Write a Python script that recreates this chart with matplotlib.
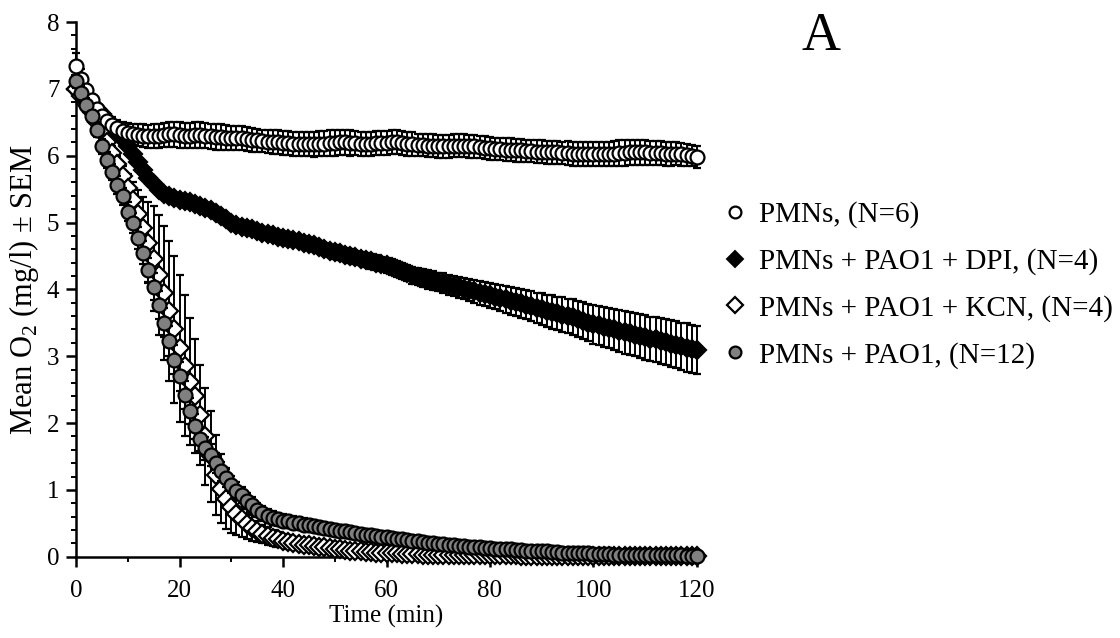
import matplotlib
matplotlib.use("Agg")
import matplotlib.pyplot as plt
from matplotlib.lines import Line2D
from matplotlib.ticker import MultipleLocator

plt.rcParams['font.family'] = ['Liberation Serif', 'DejaVu Serif']
plt.rcParams['mathtext.fontset'] = 'custom'
plt.rcParams['mathtext.rm'] = 'Liberation Serif'

# time in minutes, one reading per minute
time_min = list(range(0, 121))

# PMNs, (N=6)
pmn_mean = [7.34, 7.15, 6.98, 6.83, 6.70, 6.60, 6.52, 6.46, 6.41, 6.37, 6.34,
            6.32, 6.31, 6.30, 6.29, 6.29, 6.30, 6.31, 6.32, 6.32, 6.31,
            6.30, 6.30, 6.31, 6.31, 6.30, 6.29, 6.28, 6.28, 6.27, 6.27,
            6.26, 6.26, 6.25, 6.24, 6.23, 6.22, 6.21, 6.20, 6.20, 6.19,
            6.19, 6.18, 6.18, 6.17, 6.17, 6.17, 6.18, 6.18, 6.19, 6.19,
            6.20, 6.20, 6.19, 6.19, 6.18, 6.18, 6.18, 6.19, 6.19, 6.19,
            6.20, 6.20, 6.19, 6.18, 6.17, 6.16, 6.16, 6.15, 6.15, 6.14,
            6.14, 6.14, 6.15, 6.15, 6.15, 6.14, 6.14, 6.13, 6.12, 6.11,
            6.10, 6.10, 6.09, 6.09, 6.08, 6.08, 6.07, 6.07, 6.06, 6.06,
            6.05, 6.05, 6.05, 6.04, 6.04, 6.03, 6.03, 6.03, 6.02, 6.02,
            6.02, 6.02, 6.03, 6.03, 6.04, 6.04, 6.05, 6.05, 6.05, 6.05,
            6.04, 6.04, 6.04, 6.03, 6.03, 6.03, 6.02, 6.01, 6.00, 5.98]
pmn_sem = [0.20, 0.14, 0.10, 0.09, 0.09, 0.10, 0.11, 0.12, 0.13, 0.14, 0.15,
           0.16, 0.16, 0.17, 0.17, 0.18, 0.18, 0.18, 0.19, 0.19, 0.19,
           0.19, 0.19, 0.19, 0.19, 0.19, 0.19, 0.19, 0.19, 0.19, 0.18,
           0.18, 0.18, 0.18, 0.18, 0.17, 0.17, 0.17, 0.18, 0.18, 0.18,
           0.18, 0.18, 0.18, 0.18, 0.18, 0.19, 0.19, 0.19, 0.19, 0.19,
           0.19, 0.19, 0.19, 0.18, 0.18, 0.18, 0.18, 0.18, 0.18, 0.18,
           0.18, 0.18, 0.18, 0.18, 0.18, 0.17, 0.17, 0.17, 0.17, 0.17,
           0.17, 0.17, 0.17, 0.17, 0.17, 0.17, 0.17, 0.17, 0.17, 0.17,
           0.17, 0.17, 0.17, 0.17, 0.17, 0.17, 0.17, 0.17, 0.17, 0.17,
           0.17, 0.17, 0.17, 0.17, 0.18, 0.18, 0.18, 0.18, 0.18, 0.18,
           0.18, 0.18, 0.18, 0.19, 0.19, 0.19, 0.19, 0.19, 0.19, 0.19,
           0.18, 0.18, 0.18, 0.18, 0.18, 0.17, 0.17, 0.17, 0.16, 0.16]

# PMNs + PAO1 + DPI, (N=4)
dpi_mean = [7.00, 6.93, 6.86, 6.78, 6.70, 6.62, 6.54, 6.45, 6.35, 6.25, 6.14,
            6.03, 5.91, 5.79, 5.67, 5.57, 5.49, 5.43, 5.39, 5.36, 5.34,
            5.32, 5.30, 5.28, 5.25, 5.22, 5.19, 5.15, 5.10, 5.05, 5.00,
            4.97, 4.94, 4.92, 4.90, 4.88, 4.85, 4.83, 4.81, 4.79, 4.77,
            4.76, 4.74, 4.72, 4.70, 4.68, 4.66, 4.64, 4.61, 4.58, 4.56,
            4.54, 4.52, 4.50, 4.48, 4.46, 4.44, 4.42, 4.40, 4.38, 4.36,
            4.33, 4.30, 4.27, 4.24, 4.21, 4.19, 4.17, 4.15, 4.13, 4.11,
            4.09, 4.07, 4.05, 4.03, 4.01, 3.99, 3.97, 3.95, 3.93, 3.91,
            3.89, 3.87, 3.85, 3.83, 3.81, 3.79, 3.77, 3.75, 3.72, 3.70,
            3.68, 3.66, 3.64, 3.62, 3.60, 3.58, 3.56, 3.53, 3.50, 3.48,
            3.46, 3.44, 3.42, 3.40, 3.38, 3.36, 3.34, 3.32, 3.30, 3.28,
            3.26, 3.25, 3.23, 3.21, 3.19, 3.17, 3.15, 3.13, 3.11, 3.09]
dpi_sem = [0.06, 0.05, 0.05, 0.05, 0.05, 0.05, 0.05, 0.05, 0.05, 0.05, 0.05,
           0.05, 0.05, 0.05, 0.06, 0.06, 0.06, 0.06, 0.06, 0.06, 0.06,
           0.06, 0.06, 0.06, 0.06, 0.06, 0.06, 0.07, 0.07, 0.07, 0.07,
           0.07, 0.07, 0.07, 0.07, 0.08, 0.08, 0.08, 0.08, 0.08, 0.08,
           0.08, 0.08, 0.08, 0.09, 0.09, 0.09, 0.09, 0.09, 0.09, 0.10,
           0.10, 0.10, 0.10, 0.10, 0.10, 0.11, 0.11, 0.11, 0.11, 0.11,
           0.12, 0.12, 0.12, 0.12, 0.13, 0.13, 0.13, 0.14, 0.14, 0.14,
           0.15, 0.15, 0.15, 0.16, 0.16, 0.17, 0.17, 0.18, 0.18, 0.19,
           0.19, 0.20, 0.20, 0.21, 0.21, 0.22, 0.22, 0.23, 0.23, 0.24,
           0.24, 0.25, 0.25, 0.26, 0.26, 0.27, 0.27, 0.28, 0.28, 0.29,
           0.29, 0.30, 0.30, 0.31, 0.31, 0.32, 0.32, 0.32, 0.33, 0.33,
           0.33, 0.34, 0.34, 0.34, 0.35, 0.35, 0.35, 0.36, 0.36, 0.36]

# PMNs + PAO1 + KCN, (N=4)
kcn_mean = [7.00, 6.90, 6.78, 6.65, 6.51, 6.36, 6.20, 6.04, 5.87, 5.70, 5.52,
            5.33, 5.13, 4.92, 4.70, 4.46, 4.21, 3.95, 3.68, 3.40, 3.12,
            2.86, 2.62, 2.40, 2.12, 1.80, 1.50, 1.22, 1.02, 0.86, 0.74,
            0.64, 0.56, 0.49, 0.43, 0.38, 0.34, 0.31, 0.28, 0.26, 0.24,
            0.22, 0.21, 0.19, 0.18, 0.17, 0.16, 0.15, 0.14, 0.13, 0.12,
            0.11, 0.10, 0.09, 0.08, 0.08, 0.07, 0.07, 0.06, 0.06, 0.05,
            0.05, 0.05, 0.04, 0.04, 0.04, 0.04, 0.03, 0.03, 0.03, 0.03,
            0.03, 0.03, 0.02, 0.02, 0.02, 0.02, 0.02, 0.02, 0.02, 0.02,
            0.02, 0.02, 0.02, 0.02, 0.02, 0.01, 0.01, 0.01, 0.01, 0.01,
            0.01, 0.01, 0.01, 0.01, 0.01, 0.01, 0.01, 0.01, 0.01, 0.01,
            0.01, 0.01, 0.01, 0.01, 0.01, 0.01, 0.01, 0.01, 0.01, 0.01,
            0.01, 0.01, 0.01, 0.01, 0.01, 0.01, 0.01, 0.01, 0.01, 0.01]
kcn_sem = [0.08, 0.07, 0.07, 0.07, 0.08, 0.08, 0.09, 0.10, 0.12, 0.15, 0.20,
           0.27, 0.36, 0.46, 0.60, 0.78, 0.90, 1.00, 1.05, 1.10, 1.10,
           1.05, 0.95, 0.85, 0.75, 0.72, 0.68, 0.60, 0.52, 0.45, 0.38,
           0.32, 0.27, 0.22, 0.19, 0.16, 0.14, 0.13, 0.12, 0.11, 0.10,
           0.10, 0.09, 0.09, 0.08, 0.08, 0.07, 0.07, 0.07, 0.06, 0.06,
           0.06, 0.05, 0.05, 0.05, 0.05, 0.04, 0.04, 0.04, 0.04, 0.04,
           0.03, 0.03, 0.03, 0.03, 0.03, 0.03, 0.03, 0.03, 0.03, 0.03,
           0.02, 0.02, 0.02, 0.02, 0.02, 0.02, 0.02, 0.02, 0.02, 0.02,
           0.02, 0.02, 0.02, 0.02, 0.02, 0.01, 0.01, 0.01, 0.01, 0.01,
           0.01, 0.01, 0.01, 0.01, 0.01, 0.01, 0.01, 0.01, 0.01, 0.01,
           0.01, 0.01, 0.01, 0.01, 0.01, 0.01, 0.01, 0.01, 0.01, 0.01,
           0.01, 0.01, 0.01, 0.01, 0.01, 0.01, 0.01, 0.01, 0.01, 0.01]

# PMNs + PAO1, (N=12)
pao_mean = [7.11, 6.94, 6.76, 6.59, 6.39, 6.14, 5.94, 5.76, 5.56, 5.39, 5.16,
            4.99, 4.77, 4.55, 4.29, 4.04, 3.77, 3.50, 3.23, 2.95, 2.70,
            2.42, 2.18, 1.95, 1.76, 1.62, 1.52, 1.40, 1.28, 1.18, 1.08,
            0.99, 0.92, 0.84, 0.77, 0.70, 0.65, 0.61, 0.58, 0.56, 0.54,
            0.53, 0.51, 0.50, 0.48, 0.47, 0.46, 0.44, 0.43, 0.42, 0.40,
            0.39, 0.38, 0.37, 0.35, 0.34, 0.33, 0.32, 0.31, 0.30, 0.29,
            0.28, 0.27, 0.26, 0.25, 0.24, 0.23, 0.22, 0.21, 0.20, 0.19,
            0.19, 0.18, 0.17, 0.16, 0.16, 0.15, 0.14, 0.14, 0.13, 0.13,
            0.12, 0.12, 0.11, 0.11, 0.10, 0.10, 0.09, 0.09, 0.08, 0.08,
            0.08, 0.07, 0.07, 0.06, 0.06, 0.06, 0.05, 0.05, 0.05, 0.04,
            0.04, 0.04, 0.04, 0.03, 0.03, 0.03, 0.03, 0.03, 0.03, 0.02,
            0.02, 0.02, 0.02, 0.02, 0.02, 0.02, 0.02, 0.01, 0.01, 0.01]
pao_sem = [0.10, 0.10, 0.10, 0.10, 0.11, 0.11, 0.12, 0.12, 0.13, 0.13, 0.14,
           0.15, 0.16, 0.17, 0.18, 0.20, 0.21, 0.22, 0.22, 0.22, 0.22,
           0.21, 0.20, 0.19, 0.18, 0.17, 0.16, 0.15, 0.14, 0.14, 0.13,
           0.13, 0.12, 0.12, 0.12, 0.11, 0.11, 0.11, 0.10, 0.10, 0.10,
           0.10, 0.10, 0.10, 0.10, 0.09, 0.09, 0.09, 0.09, 0.09, 0.09,
           0.09, 0.09, 0.09, 0.08, 0.08, 0.08, 0.08, 0.08, 0.08, 0.08,
           0.07, 0.07, 0.07, 0.07, 0.07, 0.07, 0.06, 0.06, 0.06, 0.06,
           0.06, 0.05, 0.05, 0.05, 0.05, 0.05, 0.05, 0.04, 0.04, 0.04,
           0.04, 0.04, 0.04, 0.03, 0.03, 0.03, 0.03, 0.03, 0.03, 0.03,
           0.03, 0.02, 0.02, 0.02, 0.02, 0.02, 0.02, 0.02, 0.02, 0.02,
           0.02, 0.02, 0.02, 0.01, 0.01, 0.01, 0.01, 0.01, 0.01, 0.01,
           0.01, 0.01, 0.01, 0.01, 0.01, 0.01, 0.01, 0.01, 0.01, 0.01]

labels = ["PMNs, (N=6)", "PMNs + PAO1 + DPI, (N=4)",
          "PMNs + PAO1 + KCN, (N=4)", "PMNs + PAO1, (N=12)"]

fig = plt.figure(figsize=(11.2, 6.38), dpi=100)
ax = fig.add_axes([0.0679, 0.1274, 0.5544, 0.8381])

series = [
    # mean, sem, marker, face, size, zorder
    (dpi_mean, dpi_sem, 'D', 'black', 9.5, 2),
    (kcn_mean, kcn_sem, 'D', 'white', 9.5, 3),
    (pmn_mean, pmn_sem, 'o', 'white', 10, 4),
    (pao_mean, pao_sem, 'o', '#808080', 10, 5),
]
for mean, sem, mk, face, ms, z in series:
    cont = ax.errorbar(time_min, mean, yerr=sem, fmt=mk, ms=ms, mfc=face,
                       mec='black', mew=1.6, ecolor='black', elinewidth=1.4,
                       capsize=3, capthick=1.4, zorder=z)
    for art in cont.lines[0:1] + tuple(cont.lines[1]) + tuple(cont.lines[2]):
        if art is not None:
            art.set_clip_on(False)

ax.set_xlim(0, 120)
ax.set_ylim(0, 8)
ax.xaxis.set_major_locator(MultipleLocator(20))
ax.xaxis.set_minor_locator(MultipleLocator(10))
ax.yaxis.set_major_locator(MultipleLocator(1))
ax.yaxis.set_minor_locator(MultipleLocator(0.2))
for s in ['top', 'right']:
    ax.spines[s].set_visible(False)
for s in ['left', 'bottom']:
    ax.spines[s].set_linewidth(1.8)
ax.tick_params(which='major', direction='out', length=7, width=1.8, labelsize=18)
ax.tick_params(which='minor', direction='out', length=3.5, width=1.4)
ax.tick_params(axis='y', pad=5)
ax.tick_params(axis='x', pad=10)

ax.set_xlabel("Time (min)", fontsize=18, labelpad=2)
ax.set_ylabel("Mean O$_\\mathregular{2}$ (mg/l) \u00b1 SEM", fontsize=22, labelpad=4)

fig.text(0.733, 0.943, "A", fontsize=39, ha='center', va='center')

handles = [
    Line2D([], [], ls='none', marker='o', ms=8.5, mfc='white', mec='black', mew=1.6),
    Line2D([], [], ls='none', marker='D', ms=8, mfc='black', mec='black', mew=1.4),
    Line2D([], [], ls='none', marker='D', ms=8, mfc='white', mec='black', mew=1.6),
    Line2D([], [], ls='none', marker='o', ms=8.5, mfc='#808080', mec='black', mew=1.6),
]
fig.legend(handles, labels, loc='upper left', bbox_to_anchor=(0.633, 0.707),
           frameon=False, fontsize=21, handlelength=0.8, handletextpad=0.42,
           labelspacing=0.68, borderpad=0)

fig.savefig("out.png", dpi=100)
